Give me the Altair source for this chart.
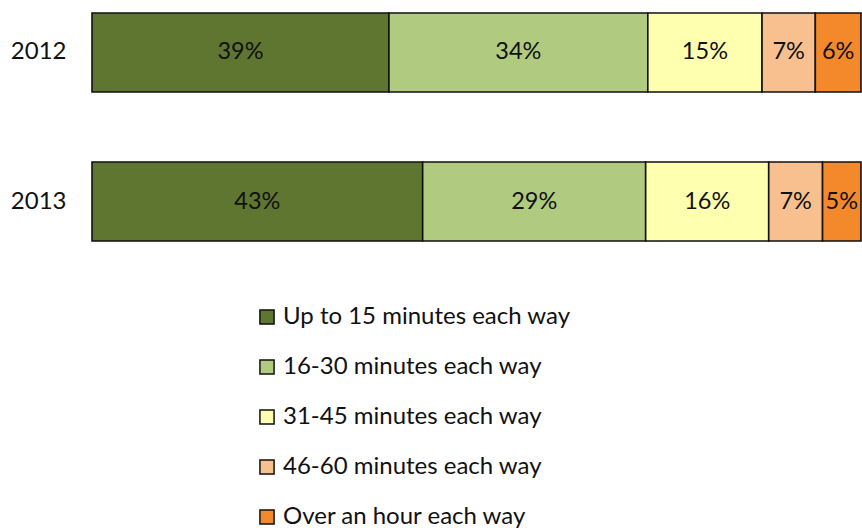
import altair as alt
import pandas as pd

years = ["2012", "2013"]
categories = [
    "Up to 15 minutes each way",
    "16-30 minutes each way",
    "31-45 minutes each way",
    "46-60 minutes each way",
    "Over an hour each way",
]
values_2012 = [39, 34, 15, 7, 6]
values_2013 = [43, 29, 16, 7, 5]
colors = ["#5E7630", "#B0CA7F", "#FFFFB0", "#F9C08F", "#F4892C"]

rows = []
for yr, vals in zip(years, [values_2012, values_2013]):
    for i, (c, v) in enumerate(zip(categories, vals)):
        rows.append({"year": yr, "category": c, "value": v, "order": i, "label": f"{v}%"})
df = pd.DataFrame(rows)

FONT = "Lato"

base = alt.Chart(df).transform_stack(
    stack="value",
    groupby=["year"],
    as_=["x0", "x1"],
    offset="normalize",
    sort=[alt.SortField("order", order="ascending")],
).transform_calculate(mid="(datum.x0 + datum.x1) / 2")

y_enc = alt.Y(
    "year:N",
    sort=years,
    title=None,
    scale=alt.Scale(paddingInner=0.47, paddingOuter=0),
    axis=alt.Axis(
        ticks=False, domain=False, labelFont=FONT, labelFontSize=24,
        labelColor="#111111", labelPadding=26, grid=False,
    ),
)

bars = base.mark_bar(stroke="#111111", strokeWidth=1.6).encode(
    x=alt.X("x0:Q", scale=alt.Scale(domain=[0, 1], nice=False, zero=True), axis=None),
    x2="x1:Q",
    y=y_enc,
    color=alt.Color(
        "category:N",
        sort=categories,
        scale=alt.Scale(domain=categories, range=colors),
        legend=alt.Legend(
            title=None,
            orient="none",
            legendX=163,
            legendY=292,
            symbolType="square",
            symbolSize=200,
            symbolStrokeColor="#111111",
            symbolStrokeWidth=1.5,
            labelFont=FONT,
            labelFontSize=24,
            labelColor="#111111",
            labelLimit=400,
            rowPadding=26,
            labelOffset=4,
        ),
    ),
)

labels = base.mark_text(font=FONT, fontSize=23.5, color="#111111", baseline="middle", align="center").encode(
    x=alt.X("mid:Q"),
    y=alt.Y("year:N", sort=years),
    text="label:N",
)

chart = (bars + labels).properties(
    width=769,
    height=228,
    padding={"left": 92, "top": 13, "right": 1, "bottom": 290},
    autosize=alt.AutoSizeParams(type="none"),
).configure_view(stroke=None)

chart.save("out.html", embed_options={"renderer": "svg", "actions": False})
